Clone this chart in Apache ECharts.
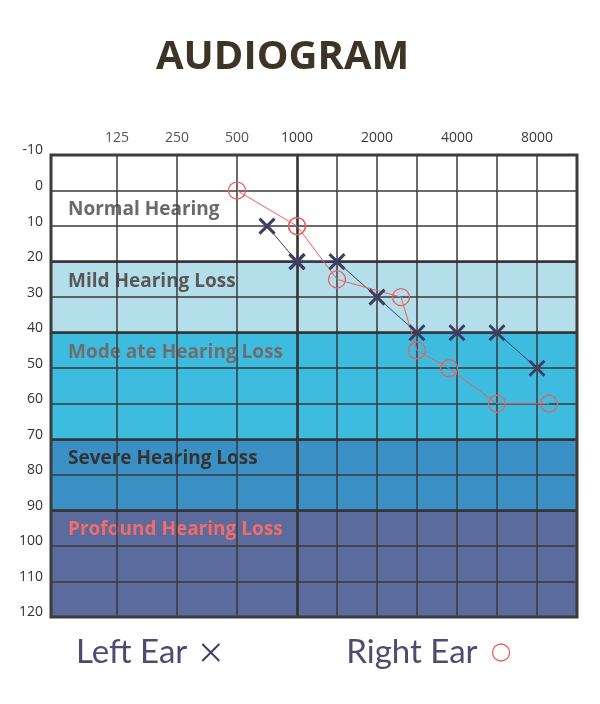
<!DOCTYPE html>
<html>
<head>
<meta charset="utf-8">
<script src="https://cdn.jsdelivr.net/npm/echarts@6/dist/echarts.min.js"></script>
<style>
	html, body { margin: 0; padding: 0; background: #ffffff; }
	#chart { width: 600px; height: 704px; }
</style>
</head>
<body>
<div id="chart"></div>
<script>
// x is in octave steps above 125 Hz (0 = 125, 3 = 1000, 6 = 8000)
const FREQ_LABELS = ['125', '250', '500', '1000', '2000', '4000', '8000'];
const FREQ_STEPS = [0, 1, 2, 3, 4, 5, 6];
const LOW_LINES = [0, 1, 2];
const HIGH_LINES = [3.5, 4, 4.5, 5, 5.5, 6];

const LEFT_STEPS = [2.5, 3, 3.5, 4, 4.5, 5, 5.5, 6];
const LEFT_DB = [10, 20, 20, 30, 40, 40, 40, 50];
const RIGHT_STEPS = [2, 3, 3.5, 4.3, 4.5, 4.9, 5.5, 6.15];
const RIGHT_DB = [0, 10, 25, 30, 45, 50, 60, 60];

const BAND_NAMES = ['Normal Hearing', 'Mild Hearing Loss', 'Mode ate Hearing Loss', 'Severe Hearing Loss', 'Profound Hearing Loss'];
const BAND_FROM = [0, 20, 40, 70, 90];
const BAND_TO = [20, 40, 70, 90, 120];
const BAND_LINES = [20, 40, 70, 90];

const bandColors = ['#ffffff', '#b4dee9', '#3ebce0', '#3a90c5', '#5b6b9d'];
const bandTextColors = ['#6a6a6a', '#585858', '#6e6e6e', '#333333', '#f26c6a'];
const leftColor = '#3d3e65';
const rightColor = '#e8625e';
const gridColor = '#3a3a3a';
const fontFamily = '"Open Sans", sans-serif';

// 把一只耳朵的点按 1000 Hz 分到左右两个坐标系
const pick = (steps, values, low) => steps
	.map((s, i) => [s, values[i]])
	.filter(p => low ? p[0] <= 3 : p[0] >= 3);

const box = { top: 155, height: 462 };

const yAxisBase = {
	type: 'value',
	inverse: true,
	min: -10,
	max: 120,
	interval: 10
};

const leftEar = {
	type: 'line',
	name: 'Left Ear',
	symbol: 'path://M0,0L10,10M10,0L0,10',
	symbolSize: 15,
	z: 10,
	lineStyle: { width: 1, color: leftColor },
	itemStyle: { color: leftColor, borderColor: leftColor, borderWidth: 3 }
};

const rightEar = {
	type: 'line',
	name: 'Right Ear',
	symbol: 'circle',
	symbolSize: 17,
	z: 10,
	lineStyle: { width: 1, color: rightColor },
	itemStyle: { color: 'transparent', borderColor: rightColor, borderWidth: 1.3 }
};

const option = {
	animation: false,
	title: {
		text: 'AUDIOGRAM',
		left: 151,
		top: 33,
		textStyle: {
			fontFamily: fontFamily,
			fontSize: 40,
			fontWeight: 'bold',
			color: '#3e3426'
		}
	},
	legend: {
		left: 71,
		top: 631,
		align: 'right',
		itemGap: 126,
		itemWidth: 17,
		itemHeight: 17,
		selectedMode: false,
		textStyle: {
			fontFamily: 'Lato, sans-serif',
			fontSize: 33,
			color: '#4c4c72',
			padding: [0, 10, 0, 0]
		},
		data: [
			{
				name: 'Left Ear',
				icon: 'path://M0,0L10,10M10,0L0,10',
				itemStyle: { color: leftColor, borderColor: leftColor, borderWidth: 2 }
			},
			{
				name: 'Right Ear',
				icon: 'circle',
				itemStyle: { color: 'transparent', borderColor: rightColor, borderWidth: 1.3 }
			}
		]
	},
	grid: [
		{ left: 51, width: 526, ...box, show: true, z: 6, borderColor: '#3c3c3c', borderWidth: 3, backgroundColor: 'transparent' },
		{ left: 51, width: 246, ...box },
		{ left: 297, width: 280, ...box }
	],
	xAxis: [
		{ gridIndex: 0, type: 'value', min: 0, max: 1, show: false },
		{
			gridIndex: 1,
			type: 'value',
			position: 'top',
			min: -1.1,
			max: 3,
			z: 3,
			axisLine: { show: false },
			axisTick: { show: false, customValues: LOW_LINES },
			axisLabel: {
				customValues: FREQ_STEPS.filter(s => s < 3),
				margin: 10,
				fontSize: 14,
				fontFamily: fontFamily,
				color: '#555555',
				formatter: v => FREQ_LABELS[FREQ_STEPS.indexOf(v)]
			},
			splitLine: { show: true, lineStyle: { color: gridColor, width: 1.5 } }
		},
		{
			gridIndex: 2,
			type: 'value',
			position: 'top',
			min: 3,
			max: 6.5,
			z: 3,
			axisLine: { show: false },
			axisTick: { show: false, customValues: HIGH_LINES },
			axisLabel: {
				customValues: FREQ_STEPS.filter(s => s >= 3),
				margin: 10,
				fontSize: 14,
				fontFamily: fontFamily,
				color: v => v === 3 ? '#222222' : '#3a3a3a',
				formatter: v => FREQ_LABELS[FREQ_STEPS.indexOf(v)]
			},
			splitLine: { show: true, lineStyle: { color: gridColor, width: 1.5 } }
		}
	],
	yAxis: [
		{
			...yAxisBase,
			gridIndex: 0,
			z: 3,
			axisLine: { show: false },
			axisTick: { show: false },
			axisLabel: {
				margin: 8,
				fontSize: 14,
				fontFamily: fontFamily,
				verticalAlign: 'bottom',
				lineHeight: 9,
				color: v => (v === 10 || v === 30 || v === 50) ? '#a8a8a8' : '#333333'
			},
			splitLine: { show: true, lineStyle: { color: gridColor, width: 1.5 } }
		},
		{ ...yAxisBase, gridIndex: 1, show: false },
		{ ...yAxisBase, gridIndex: 2, show: false }
	],
	series: [
		{
			type: 'line',
			name: 'bands',
			xAxisIndex: 0,
			yAxisIndex: 0,
			data: [],
			silent: true,
			markArea: {
				silent: true,
				label: {
					show: true,
					position: 'insideTopLeft',
					distance: 0,
					offset: [17, 10],
					fontFamily: fontFamily,
					fontSize: 19,
					fontWeight: 'bold'
				},
				data: BAND_NAMES.map((name, i) => [
					{
						name: name,
						xAxis: 0,
						yAxis: BAND_FROM[i],
						itemStyle: { color: bandColors[i] },
						label: { color: bandTextColors[i] }
					},
					{ xAxis: 1, yAxis: BAND_TO[i] }
				])
			},
			markLine: {
				silent: true,
				symbol: ['none', 'none'],
				label: { show: false },
				lineStyle: { color: '#333333', width: 2.6, type: 'solid' },
				data: BAND_LINES.map(v => ({ yAxis: v }))
			}
		},
		{
			...leftEar,
			xAxisIndex: 1,
			yAxisIndex: 1,
			data: pick(LEFT_STEPS, LEFT_DB, true)
		},
		{
			...leftEar,
			xAxisIndex: 2,
			yAxisIndex: 2,
			data: pick(LEFT_STEPS, LEFT_DB, false),
			markLine: {
				silent: true,
				symbol: ['none', 'none'],
				label: { show: false },
				lineStyle: { color: '#333333', width: 2.6, type: 'solid' },
				data: [{ xAxis: 3 }]
			}
		},
		{
			...rightEar,
			xAxisIndex: 1,
			yAxisIndex: 1,
			data: pick(RIGHT_STEPS, RIGHT_DB, true)
		},
		{
			...rightEar,
			xAxisIndex: 2,
			yAxisIndex: 2,
			data: pick(RIGHT_STEPS, RIGHT_DB, false)
		}
	]
};

const chart = echarts.init(document.getElementById('chart'));
chart.setOption(option);
</script>
</body>
</html>
